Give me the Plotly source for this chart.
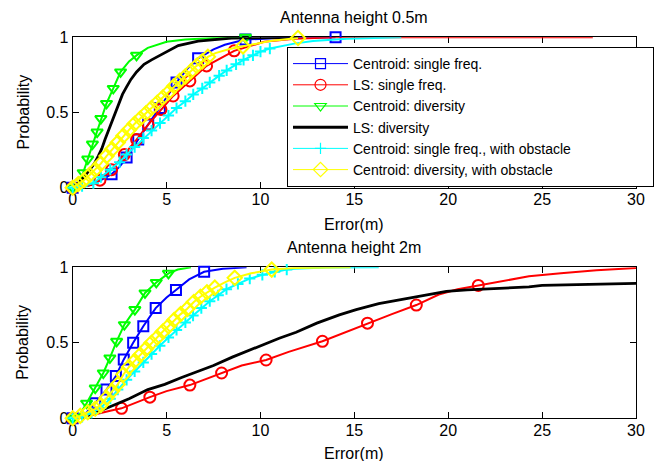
import plotly.graph_objects as go

# ---------------- data: antenna height 0.5 m ----------------
blue_top_x = [0, 0.5, 1.0, 1.5, 2.07, 2.5, 2.87, 3.2, 3.49, 4.02, 4.64, 5.1, 5.53, 6.1, 6.68, 7.5, 8.1, 9.2, 11.0, 14.0]
blue_top_y = [0, 0.005, 0.02, 0.05, 0.09, 0.14, 0.2, 0.26, 0.32, 0.42, 0.53, 0.62, 0.70, 0.79, 0.86, 0.92, 0.95, 0.985, 0.995, 1.0]
blue_top_mx = [0, 2.07, 2.87, 3.49, 4.02, 4.64, 5.53, 6.68, 9.2, 14.0]
blue_top_my = [0, 0.09, 0.2, 0.32, 0.42, 0.53, 0.70, 0.86, 0.985, 1.0]

red_top_x = [0, 0.5, 1.0, 1.45, 2.07, 2.75, 3.4, 4.02, 4.7, 5.35, 6.24, 7.13, 8.6, 10.2, 11.8, 14.0, 27.7]
red_top_y = [0, 0.005, 0.02, 0.05, 0.12, 0.22, 0.32, 0.42, 0.52, 0.61, 0.71, 0.81, 0.91, 0.97, 0.99, 1.0, 1.0]
red_top_mx = [0, 1.45, 2.07, 2.75, 3.4, 4.02, 4.7, 5.35, 6.24, 7.13, 8.6]
red_top_my = [0, 0.05, 0.12, 0.22, 0.32, 0.42, 0.52, 0.61, 0.71, 0.81, 0.91]

green_top_x = [0, 0.3, 0.56, 0.8, 1.05, 1.3, 1.5, 1.8, 2.16, 2.55, 3.0, 3.4, 4.0, 5.0, 6.0, 7.5, 9.2]
green_top_y = [0, 0.02, 0.1, 0.19, 0.29, 0.37, 0.46, 0.56, 0.66, 0.77, 0.84, 0.88, 0.93, 0.97, 0.985, 0.995, 1.0]
green_top_mx = [0, 0.56, 0.8, 1.05, 1.3, 1.5, 1.8, 2.16, 2.55, 3.4, 9.2]
green_top_my = [0, 0.1, 0.19, 0.29, 0.37, 0.46, 0.56, 0.66, 0.77, 0.88, 1.0]

black_top_x = [0, 0.3, 0.6, 0.92, 1.15, 1.36, 1.55, 1.72, 1.9, 2.07, 2.25, 2.43, 2.65, 2.87, 3.1, 3.4, 3.8, 4.2, 4.91, 5.62, 6.68, 8.46, 12.0]
black_top_y = [0, 0.03, 0.07, 0.12, 0.16, 0.21, 0.26, 0.32, 0.38, 0.44, 0.5, 0.56, 0.62, 0.67, 0.72, 0.77, 0.82, 0.85, 0.9, 0.945, 0.975, 0.995, 1.0]

cyan_top_x = [0, 0.5, 1.1, 1.5, 2.0, 2.5, 2.87, 3.3, 3.76, 4.2, 4.65, 5.1, 5.53, 6.0, 6.42, 6.9, 7.3, 7.8, 8.2, 8.7, 9.1, 9.6, 10.0, 10.5, 11.1, 11.8, 12.8, 14.6, 17.5]
cyan_top_y = [0, 0.01, 0.03, 0.07, 0.12, 0.17, 0.22, 0.27, 0.33, 0.38, 0.43, 0.48, 0.53, 0.575, 0.62, 0.66, 0.70, 0.745, 0.78, 0.82, 0.85, 0.88, 0.905, 0.925, 0.94, 0.958, 0.975, 0.99, 1.0]
cyan_top_mx = [0, 0.5, 1.1, 1.5, 2.0, 2.5, 2.87, 3.3, 3.76, 4.2, 4.65, 5.1, 5.53, 6.0, 6.42, 6.9, 7.3, 7.8, 8.2, 8.7, 9.1, 9.6, 10.0, 10.5]
cyan_top_my = [0, 0.01, 0.03, 0.07, 0.12, 0.17, 0.22, 0.27, 0.33, 0.38, 0.43, 0.48, 0.53, 0.575, 0.62, 0.66, 0.70, 0.745, 0.78, 0.82, 0.85, 0.88, 0.905, 0.925]

yellow_top_x = [0, 0.3, 0.6, 0.9, 1.2, 1.5, 1.8, 2.1, 2.4, 2.7, 3.0, 3.3, 3.6, 3.9, 4.2, 4.5, 4.8, 5.1, 5.4, 5.7, 6.0, 6.3, 6.6, 6.9, 7.2, 7.6, 8.3, 9.07, 10.5, 12.0]
yellow_top_y = [0, 0.025, 0.05, 0.085, 0.12, 0.16, 0.21, 0.255, 0.30, 0.345, 0.385, 0.425, 0.46, 0.495, 0.53, 0.565, 0.60, 0.635, 0.675, 0.71, 0.74, 0.775, 0.81, 0.84, 0.87, 0.895, 0.92, 0.94, 0.975, 0.995]
yellow_top_mx = [0, 0.3, 0.6, 0.9, 1.2, 1.5, 1.8, 2.1, 2.4, 2.7, 3.0, 3.3, 3.6, 3.9, 4.2, 4.5, 4.8, 5.1, 5.4, 5.7, 6.0, 6.3, 6.6, 6.9, 7.2, 9.07, 12.0]
yellow_top_my = [0, 0.025, 0.05, 0.085, 0.12, 0.16, 0.21, 0.255, 0.30, 0.345, 0.385, 0.425, 0.46, 0.495, 0.53, 0.565, 0.60, 0.635, 0.675, 0.71, 0.74, 0.775, 0.81, 0.84, 0.87, 0.94, 0.995]

# ---------------- data: antenna height 2 m ----------------
blue_bot_x = [0, 0.6, 1.2, 1.8, 2.3, 2.72, 3.22, 3.76, 4.42, 5.0, 5.5, 6.2, 7.0, 8.0, 9.26]
blue_bot_y = [0, 0.02, 0.1, 0.19, 0.28, 0.39, 0.50, 0.61, 0.73, 0.80, 0.85, 0.92, 0.97, 0.99, 1.0]
blue_bot_mx = [0, 1.2, 1.8, 2.3, 2.72, 3.22, 3.76, 4.42, 5.5, 7.0]
blue_bot_my = [0, 0.1, 0.19, 0.28, 0.39, 0.50, 0.61, 0.73, 0.85, 0.97]

red_bot_x = [0, 1.0, 2.0, 2.6, 4.11, 5.0, 6.24, 7.93, 9.0, 10.3, 11.5, 13.3, 14.5, 15.7, 17.0, 18.3, 19.5, 20.5, 21.6, 23.0, 24.3, 26.0, 27.9, 30.0]
red_bot_y = [0, 0.02, 0.05, 0.066, 0.14, 0.18, 0.22, 0.30, 0.35, 0.386, 0.44, 0.51, 0.57, 0.63, 0.69, 0.75, 0.82, 0.855, 0.88, 0.91, 0.94, 0.96, 0.98, 0.995]
red_bot_mx = [0, 2.6, 4.11, 6.24, 7.93, 10.3, 13.3, 15.7, 18.3, 21.6]
red_bot_my = [0, 0.066, 0.14, 0.22, 0.30, 0.386, 0.51, 0.63, 0.75, 0.88]

green_bot_x = [0, 0.4, 0.74, 1.2, 1.63, 1.98, 2.34, 2.75, 3.31, 3.85, 4.45, 5.1, 5.6, 6.3]
green_bot_y = [0, 0.03, 0.1, 0.2, 0.3, 0.4, 0.51, 0.62, 0.72, 0.83, 0.9, 0.96, 0.985, 1.0]
green_bot_mx = [0, 0.74, 1.2, 1.63, 1.98, 2.34, 2.75, 3.31, 3.85, 4.45, 5.1]
green_bot_my = [0, 0.1, 0.2, 0.3, 0.4, 0.51, 0.62, 0.72, 0.83, 0.9, 0.96]

black_bot_x = [0, 0.5, 1.1, 2.0, 3.0, 4.0, 4.9, 5.8, 6.7, 7.5, 8.5, 9.2, 10.2, 11.0, 11.9, 13.0, 14.2, 15.1, 16.3, 17.2, 18.1, 19.0, 19.9, 21.0, 21.7, 23.0, 24.3, 25.0, 28.6, 30.0]
black_bot_y = [0, 0.01, 0.03, 0.075, 0.13, 0.19, 0.225, 0.27, 0.31, 0.35, 0.405, 0.44, 0.495, 0.53, 0.57, 0.63, 0.685, 0.72, 0.76, 0.78, 0.805, 0.825, 0.84, 0.85, 0.855, 0.865, 0.87, 0.88, 0.89, 0.893]

cyan_bot_x = [0, 0.5, 1.0, 1.5, 2.0, 2.4, 2.87, 3.3, 3.76, 4.2, 4.64, 5.1, 5.53, 6.0, 6.41, 6.85, 7.3, 7.75, 8.19, 8.8, 9.43, 10.1, 10.76, 11.4, 11.8, 13.5, 16.3]
cyan_bot_y = [0, 0.01, 0.035, 0.07, 0.13, 0.19, 0.255, 0.31, 0.37, 0.425, 0.48, 0.535, 0.585, 0.635, 0.68, 0.73, 0.775, 0.815, 0.855, 0.89, 0.925, 0.95, 0.97, 0.985, 0.99, 0.998, 1.0]
cyan_bot_mx = [0, 0.5, 1.0, 1.5, 2.0, 2.4, 2.87, 3.3, 3.76, 4.2, 4.64, 5.1, 5.53, 6.0, 6.41, 6.85, 7.3, 7.75, 8.19, 8.8, 9.43, 10.1, 10.76, 11.4]
cyan_bot_my = [0, 0.01, 0.035, 0.07, 0.13, 0.19, 0.255, 0.31, 0.37, 0.425, 0.48, 0.535, 0.585, 0.635, 0.68, 0.73, 0.775, 0.815, 0.855, 0.89, 0.925, 0.95, 0.97, 0.985]

yellow_bot_x = [0, 0.4, 0.8, 1.2, 1.5, 1.8, 2.1, 2.4, 2.7, 3.0, 3.3, 3.6, 3.9, 4.2, 4.5, 4.8, 5.1, 5.4, 5.75, 6.1, 6.45, 6.8, 7.15, 7.57, 8.1, 8.63, 9.5, 10.6, 11.8, 14.8]
yellow_bot_y = [0, 0.016, 0.04, 0.063, 0.088, 0.135, 0.18, 0.225, 0.29, 0.34, 0.38, 0.42, 0.46, 0.50, 0.535, 0.575, 0.61, 0.65, 0.69, 0.725, 0.77, 0.805, 0.835, 0.865, 0.90, 0.93, 0.96, 0.985, 0.995, 1.0]
yellow_bot_mx = [0, 0.4, 0.8, 1.2, 1.5, 1.8, 2.1, 2.4, 2.7, 3.0, 3.3, 3.6, 3.9, 4.2, 4.5, 4.8, 5.1, 5.4, 5.75, 6.1, 6.45, 6.8, 7.15, 7.57, 8.63, 10.6]
yellow_bot_my = [0, 0.016, 0.04, 0.063, 0.088, 0.135, 0.18, 0.225, 0.29, 0.34, 0.38, 0.42, 0.46, 0.50, 0.535, 0.575, 0.61, 0.65, 0.69, 0.725, 0.77, 0.805, 0.835, 0.865, 0.93, 0.985]

series_names = ["Centroid: single freq.", "LS: single freq.", "Centroid: diversity",
                "LS: diversity", "Centroid: single freq., with obstacle",
                "Centroid: diversity, with obstacle"]
x_ticks = [0, 5, 10, 15, 20, 25, 30]
y_ticks = [0, 0.5, 1]
y_tick_text = ["0", "0.5", "1"]
titles = ["Antenna height 0.5m", "Antenna height 2m"]
x_title = "Error(m)"
y_title = "Probability"

# ---------------- styling ----------------
colors = ["#0000FF", "#FF0000", "#00FF00", "#000000", "#00FFFF", "#FFFF00"]
symbols = ["square-open", "circle-open", "triangle-down-open", None, "cross-thin-open", "diamond-open"]
msizes = [10, 11, 10, 0, 8, 11]
lwidths = [2, 2, 2, 2.8, 2, 2]
FONT = "Liberation Sans, Arial, Helvetica, sans-serif"
W, H = 662, 461

top = [(blue_top_x, blue_top_y, blue_top_mx, blue_top_my),
       (red_top_x, red_top_y, red_top_mx, red_top_my),
       (green_top_x, green_top_y, green_top_mx, green_top_my),
       (black_top_x, black_top_y, None, None),
       (cyan_top_x, cyan_top_y, cyan_top_mx, cyan_top_my),
       (yellow_top_x, yellow_top_y, yellow_top_mx, yellow_top_my)]
bot = [(blue_bot_x, blue_bot_y, blue_bot_mx, blue_bot_my),
       (red_bot_x, red_bot_y, red_bot_mx, red_bot_my),
       (green_bot_x, green_bot_y, green_bot_mx, green_bot_my),
       (black_bot_x, black_bot_y, None, None),
       (cyan_bot_x, cyan_bot_y, cyan_bot_mx, cyan_bot_my),
       (yellow_bot_x, yellow_bot_y, yellow_bot_mx, yellow_bot_my)]

fig = go.Figure()
for axes, data in ((("x", "y"), top), (("x2", "y2"), bot)):
    for i, (lx, ly, mx, my) in enumerate(data):
        fig.add_trace(go.Scatter(x=lx, y=ly, mode="lines", xaxis=axes[0], yaxis=axes[1],
                                 line=dict(color=colors[i], width=lwidths[i]),
                                 showlegend=False, cliponaxis=False, hoverinfo="skip"))
        if mx is not None:
            fig.add_trace(go.Scatter(x=mx, y=my, mode="markers", xaxis=axes[0], yaxis=axes[1],
                                     marker=dict(symbol=symbols[i], size=msizes[i], color=colors[i],
                                                 line=dict(color=colors[i], width=2)),
                                     showlegend=False, cliponaxis=False, hoverinfo="skip"))

# legend entries
for i, name in enumerate(series_names):
    if symbols[i] is None:
        fig.add_trace(go.Scatter(x=[None], y=[None], mode="lines", name=name,
                                 line=dict(color=colors[i], width=3)))
    else:
        fig.add_trace(go.Scatter(x=[None], y=[None], mode="lines+markers", name=name,
                                 line=dict(color=colors[i], width=1),
                                 marker=dict(symbol=symbols[i], size=msizes[i], color=colors[i],
                                             line=dict(color=colors[i], width=1.2))))

L, R = 72.7, 636.0
TOP_T, TOP_B = 37.3, 187.7
BOT_T, BOT_B = 267.3, 418.3

def px(x):
    return x / W

def py(y):
    return 1 - y / H

axis_common = dict(range=[0, 30], tickvals=x_ticks, ticks="inside", ticklen=6, tickwidth=1,
                   tickcolor="black", showline=True, linecolor="black", linewidth=1, mirror="ticks",
                   showgrid=False, zeroline=False, layer="below traces", automargin=False,
                   ticklabelstandoff=-3,
                   tickfont=dict(family=FONT, size=16, color="black"))
yaxis_common = dict(range=[0, 1], tickvals=y_ticks, ticktext=y_tick_text, ticks="inside", ticklen=6,
                    tickwidth=1, tickcolor="black", showline=True, linecolor="black", linewidth=1,
                    mirror="ticks", showgrid=False, zeroline=False, layer="below traces", automargin=False,
                    tickfont=dict(family=FONT, size=16, color="black"))

fig.update_layout(
    template="none",
    width=W, height=H, margin=dict(l=0, r=0, t=0, b=0, autoexpand=False),
    paper_bgcolor="white", plot_bgcolor="white",
    font=dict(family=FONT, size=16, color="black"),
    xaxis=dict(domain=[px(L), px(R)], anchor="y", **axis_common),
    yaxis=dict(domain=[py(TOP_B), py(TOP_T)], anchor="x", **yaxis_common),
    xaxis2=dict(domain=[px(L), px(R)], anchor="y2", **axis_common),
    yaxis2=dict(domain=[py(BOT_B), py(BOT_T)], anchor="x2", **yaxis_common),
    showlegend=True,
    legend=dict(x=px(287), y=py(47), xanchor="left", yanchor="top", orientation="h",
                bgcolor="white", bordercolor="black", borderwidth=1,
                itemwidth=55, entrywidth=295, entrywidthmode="pixels",
                font=dict(family=FONT, size=14, color="black"), tracegroupgap=0),
)

ann = []
ann.append(dict(text=titles[0], x=px((L + R) / 2), y=py(17), xanchor="center", yanchor="middle"))
ann.append(dict(text=titles[1], x=px((L + R) / 2), y=py(247.5), xanchor="center", yanchor="middle"))
ann.append(dict(text=x_title, x=px((L + R) / 2), y=py(224), xanchor="center", yanchor="middle"))
ann.append(dict(text=x_title, x=px((L + R) / 2), y=py(453), xanchor="center", yanchor="middle"))
ann.append(dict(text=y_title, x=px(23), y=py((TOP_T + TOP_B) / 2), xanchor="center", yanchor="middle", textangle=-90))
ann.append(dict(text=y_title, x=px(23), y=py((BOT_T + BOT_B) / 2), xanchor="center", yanchor="middle", textangle=-90))
for a in ann:
    a.update(xref="paper", yref="paper", showarrow=False, font=dict(family=FONT, size=16, color="black"))
fig.update_layout(annotations=ann)

fig.write_html("out.html", config={"displayModeBar": False},
               post_script="document.body.style.margin='0px';")
